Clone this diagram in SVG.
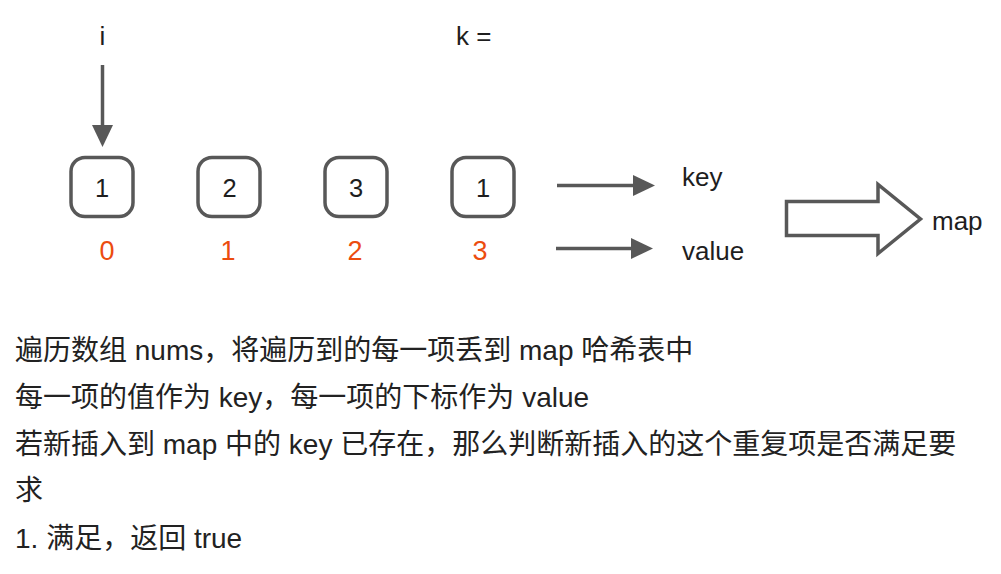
<svg xmlns="http://www.w3.org/2000/svg" width="1001" height="574" viewBox="0 0 1001 574">
<style>
  .box { fill: #ffffff; stroke: #585858; stroke-width: 3.5; }
  .lbl { font-family: "Liberation Sans", Arial, sans-serif; font-size: 26px; fill: #1e1e1e; }
  .num { font-family: "Liberation Sans", Arial, sans-serif; font-size: 25.5px; fill: #1e1e1e; text-anchor: middle; }
  .idx { font-family: "Liberation Sans", Arial, sans-serif; font-size: 27px; fill: #ec4c0f; text-anchor: middle; }
  .line { stroke: #585858; stroke-width: 3.5; fill: none; }
  .head { fill: #585858; stroke: none; }
  .txt { font-family: "Liberation Sans", "Noto Sans CJK SC", sans-serif; font-size: 28px; fill: #222222; }
</style>
<rect width="1001" height="574" fill="#ffffff"/>

<g id="label-i"><text class="lbl" x="102.5" y="45" text-anchor="middle">i</text></g>
<g id="label-k"><text class="lbl" x="456" y="45">k =</text></g>

<g id="node-0">
  <rect class="box" x="71" y="157.5" width="62" height="59" rx="14"/>
  <text class="num" x="102" y="197">1</text>
  <text class="idx" x="107" y="260">0</text>
</g>
<g id="node-1">
  <rect class="box" x="198" y="157.5" width="62" height="59" rx="14"/>
  <text class="num" x="229.5" y="197">2</text>
  <text class="idx" x="228" y="260">1</text>
</g>
<g id="node-2">
  <rect class="box" x="325" y="157.5" width="62" height="59" rx="14"/>
  <text class="num" x="356" y="197">3</text>
  <text class="idx" x="355" y="260">2</text>
</g>
<g id="node-3">
  <rect class="box" x="452" y="157.5" width="62" height="59" rx="14"/>
  <text class="num" x="483" y="197">1</text>
  <text class="idx" x="480" y="260">3</text>
</g>

<g id="label-key"><text class="lbl" x="682" y="186">key</text></g>
<g id="label-value"><text class="lbl" x="682" y="260">value</text></g>
<g id="label-map"><text class="lbl" x="932" y="230">map</text></g>

<g id="connectors">
  <line class="line" x1="102.5" y1="65" x2="102.5" y2="127"/>
  <polygon class="head" points="92,125 113,125 102.5,147"/>
  <line class="line" x1="557" y1="185.5" x2="635" y2="185.5"/>
  <polygon class="head" points="633,175 655,185.5 633,196"/>
  <line class="line" x1="556" y1="248.5" x2="633" y2="248.5"/>
  <polygon class="head" points="631,238 653,248.5 631,259"/>
  <polygon id="big-arrow" class="box" points="786.5,201.5 878,201.5 878,184.5 920.5,219 878,253.5 878,235.5 786.5,235.5"/>
</g>

<g id="description">
  <text class="txt" x="15" y="360">遍历数组 nums，将遍历到的每一项丢到 map 哈希表中</text>
  <text class="txt" x="15" y="407">每一项的值作为 key，每一项的下标作为 value</text>
  <text class="txt" x="15" y="454">若新插入到 map 中的 key 已存在，那么判断新插入的这个重复项是否满足要</text>
  <text class="txt" x="15" y="500">求</text>
  <text class="txt" x="15" y="548">1. 满足，返回 true</text>
</g>
</svg>
